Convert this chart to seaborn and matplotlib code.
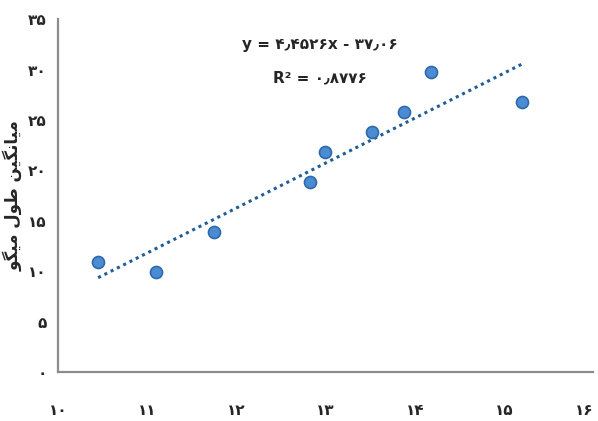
import numpy as np
import pandas as pd
import matplotlib

matplotlib.use("Agg")
import matplotlib.pyplot as plt
import seaborn as sns

# data
size_x = [10.45, 11.10, 11.75, 12.83, 12.99, 13.52, 13.88, 14.18, 15.20]
length_y = [10.90, 9.94, 13.88, 18.89, 21.80, 23.86, 25.84, 29.79, 26.84]

x_ticks = [10, 11, 12, 13, 14, 15, 16]
x_labels = ["۱۰", "۱۱", "۱۲", "۱۳", "۱۴", "۱۵", "۱۶"]
y_ticks = [0, 5, 10, 15, 20, 25, 30, 35]
y_labels = ["۰", "۵", "۱۰", "۱۵", "۲۰", "۲۵", "۳۰", "۳۵"]

eq_text = "y = ۴٫۴۵۲۶x - ۳۷٫۰۶"
r2_text = "R² = ۰٫۸۷۷۶"

# "میانگین طول میگو" written with joined (presentation) forms, logical order
y_title = (
    "\ufee3\ufbff\ufe8e\ufee7\ufb95\ufbff\ufee6"
    " \ufec3\ufeee\ufedd"
    " \ufee3\ufbff\ufb95\ufeee"
)

sns.set_style("white")
plt.rcParams["font.family"] = ["DejaVu Sans"]

df = pd.DataFrame({"x": size_x, "y": length_y})

fig = plt.figure(figsize=(5.98, 4.21), dpi=100)
ax = fig.add_axes([0.097, 0.1164, 0.895, 0.8376])

sns.regplot(
    data=df,
    x="x",
    y="y",
    ax=ax,
    ci=None,
    truncate=True,
    scatter_kws=dict(s=75, color="#4a8bd3", edgecolor="#2f6aa8", linewidths=1.2, alpha=1, zorder=3),
    line_kws=dict(color="#1f5d99", linestyle=(0, (1, 1.3)), linewidth=2.2, zorder=2),
)

ax.set_xlim(10, 16)
ax.set_ylim(0, 35)
ax.set_xticks(x_ticks)
ax.set_xticklabels(x_labels, fontsize=11, fontweight="bold")
ax.set_yticks(y_ticks)
ax.set_yticklabels(y_labels, fontsize=11, fontweight="bold")
ax.tick_params(axis="x", length=0, pad=22)
ax.tick_params(axis="y", length=0, pad=8)
# last label sits on the figure edge
ax.get_xticklabels()[-1].set_horizontalalignment("right")

ax.set_xlabel("")
# visual (left-to-right) order for the rotated label
ax.set_ylabel(y_title[::-1], fontsize=12, fontweight="bold", labelpad=4)

for side in ["top", "right"]:
    ax.spines[side].set_visible(False)
for side in ["left", "bottom"]:
    ax.spines[side].set_color("#8c8c8c")
    ax.spines[side].set_linewidth(1.6)

ax.text(0.49, 0.93, eq_text, transform=ax.transAxes, ha="center", va="center",
        fontsize=11, fontweight="bold")
ax.text(0.49, 0.835, r2_text, transform=ax.transAxes, ha="center", va="center",
        fontsize=11, fontweight="bold")

fig.savefig("out.png", dpi=100)
